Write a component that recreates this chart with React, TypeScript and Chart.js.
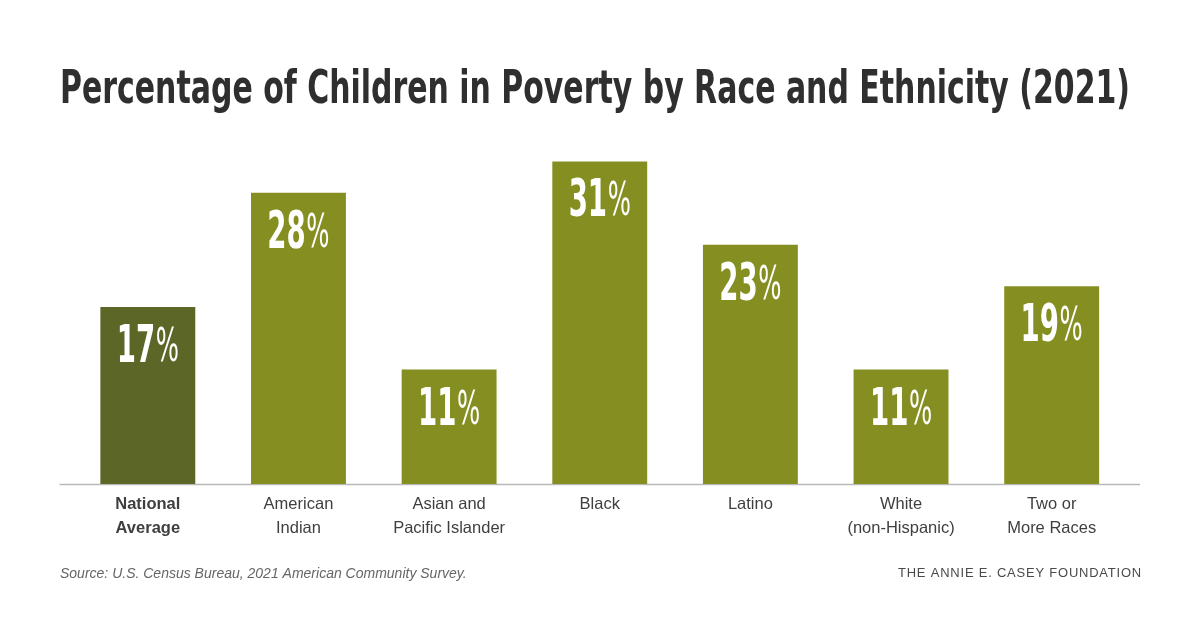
import React, { useEffect, useRef } from "react";
import { Chart, registerables } from "chart.js";

Chart.register(...registerables);

const TITLE = "Percentage of Children in Poverty by Race and Ethnicity (2021)";
const SOURCE = "Source: U.S. Census Bureau, 2021 American Community Survey.";
const FOUNDATION = "THE ANNIE E. CASEY FOUNDATION";

const categories: string[][] = [
  ["National", "Average"],
  ["American", "Indian"],
  ["Asian and", "Pacific Islander"],
  ["Black"],
  ["Latino"],
  ["White", "(non-Hispanic)"],
  ["Two or", "More Races"],
];
const values: number[] = [17, 28, 11, 31, 23, 11, 19];
const barColors: string[] = ["#5c6627", "#858f21", "#858f21", "#858f21", "#858f21", "#858f21", "#858f21"];

const CONDENSED = '"Liberation Sans Narrow", "DejaVu Sans Condensed", "Roboto Condensed", sans-serif';
const SANS = '"Liberation Sans", Arial, sans-serif';

const decorPlugin = {
  id: "decor",
  beforeDatasetsDraw(chart: any) {
    const { ctx, chartArea } = chart;
    ctx.save();
    ctx.strokeStyle = "#b9b9b9";
    ctx.lineWidth = 1.5;
    ctx.beginPath();
    ctx.moveTo(chartArea.left - 13, chartArea.bottom + 0.5);
    ctx.lineTo(chartArea.right + 13, chartArea.bottom + 0.5);
    ctx.stroke();
    ctx.restore();
  },
  afterDatasetsDraw(chart: any) {
    const { ctx } = chart;
    const meta = chart.getDatasetMeta(0);
    ctx.save();
    meta.data.forEach((bar: any, i: number) => {
      const num = String(values[i]);
      const numFont = `bold 52px ${CONDENSED}`;
      const pctFont = `46px ${CONDENSED}`;
      ctx.font = numFont;
      const wNum = ctx.measureText(num).width;
      ctx.font = pctFont;
      const wPct = ctx.measureText("%").width;
      const sx = 0.59;
      const total = (wNum + wPct + 1) * sx;
      const x0 = bar.x - total / 2;
      const yb = bar.y + 55;
      ctx.save();
      ctx.translate(x0, yb);
      ctx.scale(sx, 1);
      ctx.fillStyle = "#ffffff";
      ctx.textAlign = "left";
      ctx.textBaseline = "alphabetic";
      ctx.font = numFont;
      ctx.fillText(num, 0, 0);
      ctx.font = pctFont;
      ctx.fillText("%", wNum + 1, -1);
      ctx.restore();
    });
    ctx.restore();
  },
  afterDraw(chart: any) {
    const { ctx } = chart;
    ctx.save();
    ctx.fillStyle = "#2f2f2f";
    ctx.font = `bold 46px ${CONDENSED}`;
    ctx.textAlign = "center";
    ctx.textBaseline = "alphabetic";
    ctx.fillText(TITLE, 595, 103, 1070);

    ctx.fillStyle = "#666666";
    ctx.font = `italic 14px ${SANS}`;
    ctx.textAlign = "left";
    ctx.fillText(SOURCE, 60, 578);

    ctx.fillStyle = "#4a4a4a";
    ctx.font = `13px ${SANS}`;
    ctx.textAlign = "right";
    try {
      (ctx as any).letterSpacing = "0.8px";
    } catch (e) {}
    ctx.fillText(FOUNDATION, 1142, 577, 244);
    ctx.restore();
  },
};

export default function App() {
  const ref = useRef<HTMLCanvasElement | null>(null);
  useEffect(() => {
    document.body.style.margin = "0";
    if (!ref.current) return;
    const chart = new Chart(ref.current, {
      type: "bar",
      data: {
        labels: categories,
        datasets: [
          {
            data: values,
            backgroundColor: barColors,
            borderWidth: 0,
            barPercentage: 0.63,
            categoryPercentage: 1,
          },
        ],
      },
      options: {
        animation: false,
        responsive: false,
        maintainAspectRatio: false,
        devicePixelRatio: 1,
        layout: { padding: { top: 151, left: 72.5, right: 73, bottom: 0 } },
        plugins: {
          legend: { display: false },
          title: { display: false },
          tooltip: { enabled: false },
        },
        scales: {
          x: {
            grid: { display: false, drawTicks: false },
            border: { display: false },
            ticks: {
              padding: 9,
              color: "#3f3f3f",
              maxRotation: 0,
              autoSkip: false,
              font: (c: any) => ({
                family: SANS,
                size: 16.5,
                lineHeight: 1.42,
                weight: c.index === 0 ? "bold" : "normal",
              }),
            },
            afterFit: (scale: any) => {
              scale.height = 144;
            },
          },
          y: {
            display: false,
            min: 0,
            max: 32,
          },
        },
      },
      plugins: [decorPlugin],
    });
    return () => chart.destroy();
  }, []);
  return (
    <div style={{ width: 1200, height: 628, background: "#ffffff" }}>
      <canvas ref={ref} width={1200} height={628} />
    </div>
  );
}
